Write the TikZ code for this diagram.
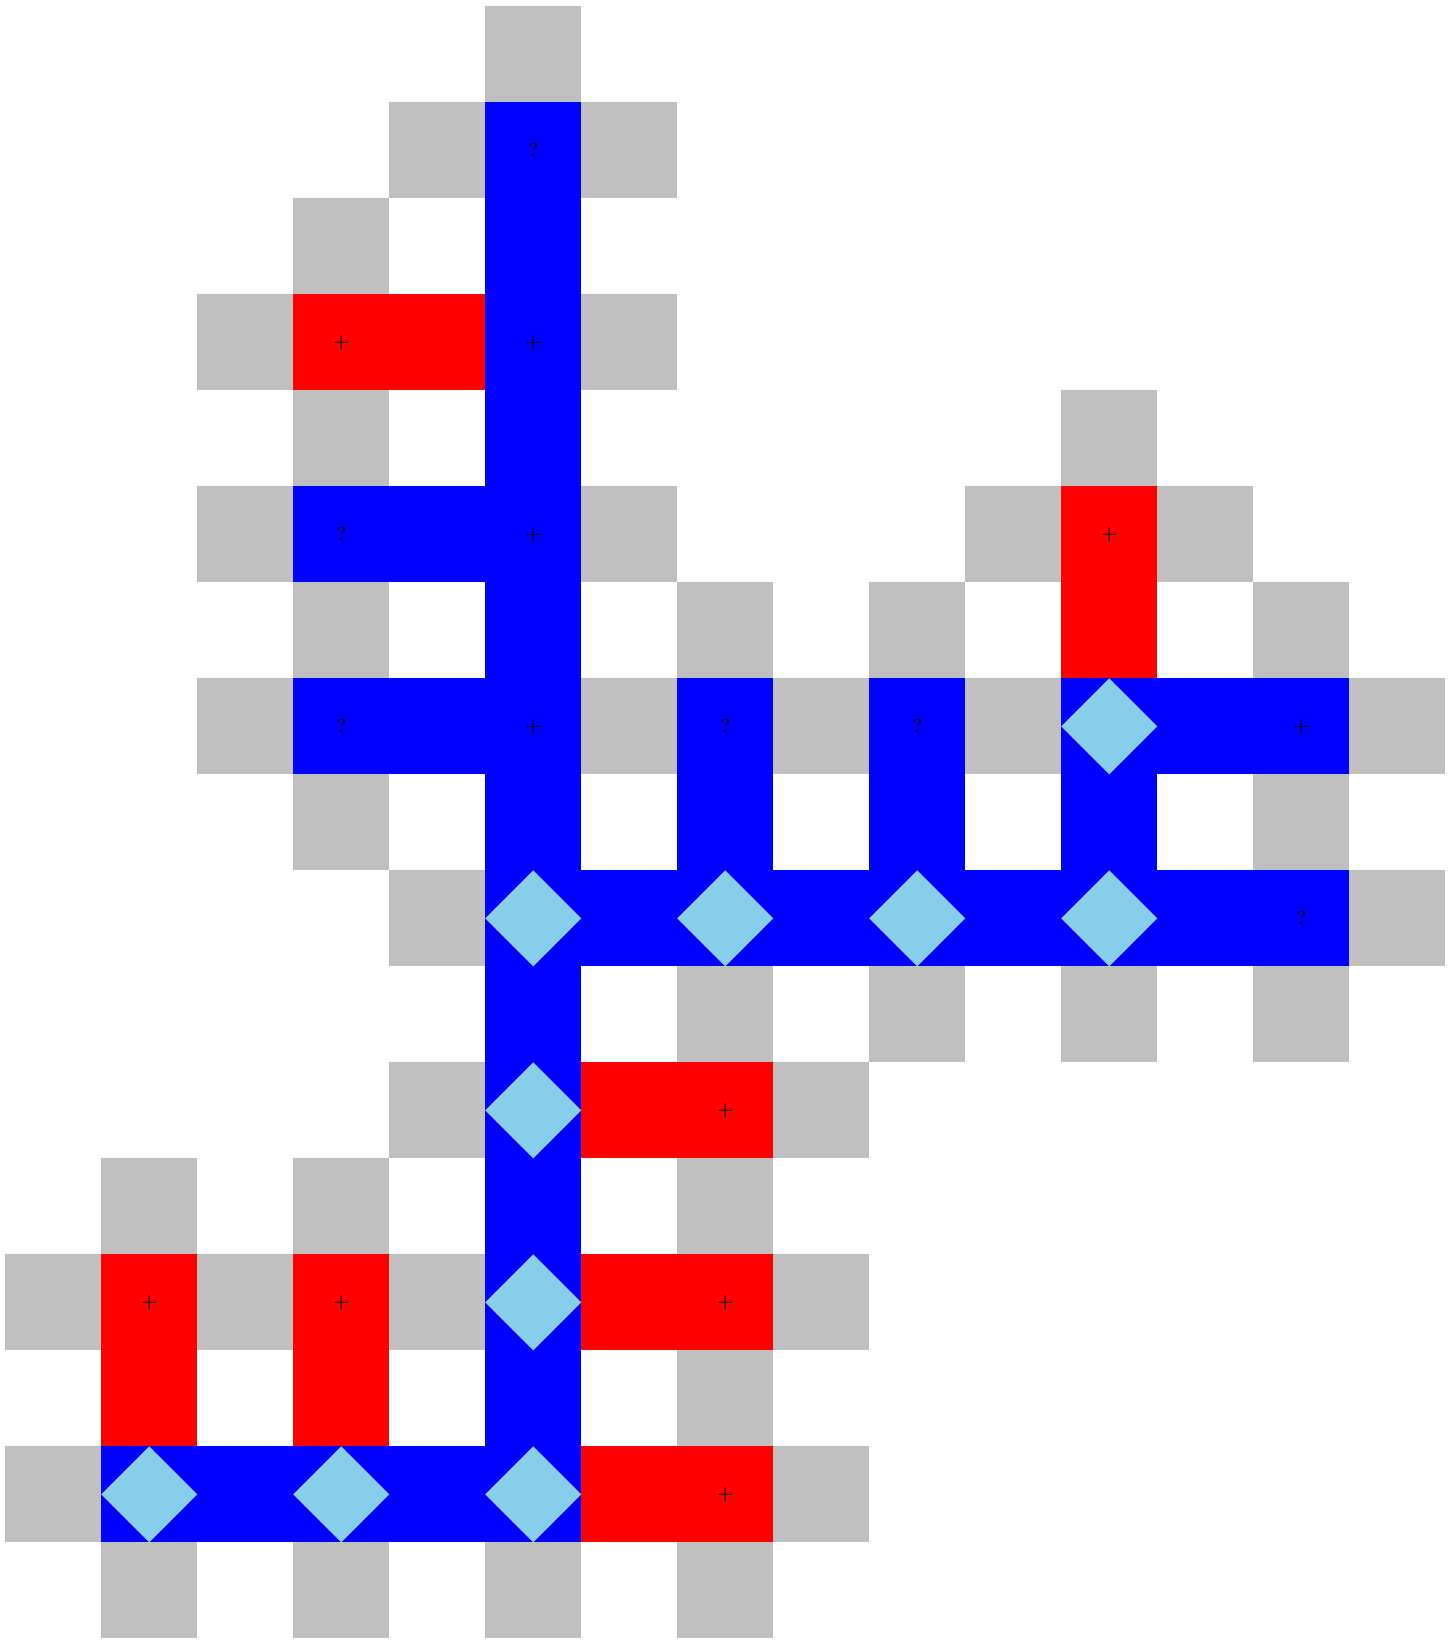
\documentclass[tikz,border=0pt]{standalone}
\usetikzlibrary{shapes.geometric}
\definecolor{cellgray}{RGB}{192,192,192}
\definecolor{cellblue}{RGB}{0,0,255}
\definecolor{cellred}{RGB}{255,0,0}
\definecolor{gemblue}{RGB}{135,206,235}
\tikzset{
  graycell/.style={fill=cellgray},
  bluecell/.style={fill=cellblue},
  redcell/.style={fill=cellred},
  gem/.style={fill=gemblue},
  celltext/.style={font=\fontsize{5.5}{6}\selectfont, inner sep=0pt, text=black}
}
\begin{document}
\begin{tikzpicture}
\useasboundingbox (-0.054,0.066) rectangle (15.061,-17.069);
% gray cells
\foreach \c/\r in {5/0,4/1,6/1,3/2,2/3,6/3,3/4,11/4,2/5,6/5,10/5,12/5,3/6,7/6,9/6,13/6,
  2/7,6/7,8/7,10/7,14/7,3/8,13/8,4/9,14/9,7/10,9/10,11/10,13/10,4/11,8/11,
  1/12,3/12,7/12,0/13,2/13,4/13,8/13,7/14,0/15,8/15,1/16,3/16,5/16,7/16}
  \fill[graycell] (\c,-\r) rectangle ++(1,-1);
% blue cells
\foreach \r in {1,...,15}
  \fill[bluecell] (5,-\r) rectangle ++(1,-1);
\foreach \c/\r in {3/5,4/5,3/7,4/7,7/7,9/7,11/7,12/7,13/7,7/8,9/8,11/8,
  6/9,7/9,8/9,9/9,10/9,11/9,12/9,13/9,1/15,2/15,3/15,4/15}
  \fill[bluecell] (\c,-\r) rectangle ++(1,-1);
% red cells
\foreach \c/\r in {3/3,4/3,11/5,11/6,6/11,7/11,1/13,1/14,3/13,3/14,6/13,7/13,6/15,7/15}
  \fill[redcell] (\c,-\r) rectangle ++(1,-1);
% diamonds
\foreach \c/\r in {11/7,5/9,7/9,9/9,11/9,5/11,5/13,1/15,3/15,5/15}
  \fill[gem] (\c+0.5,-\r) -- (\c+1,-\r-0.5) -- (\c+0.5,-\r-1) -- (\c,-\r-0.5) -- cycle;
% labels
\foreach \c/\r in {5/1,3/5,3/7,7/7,9/7,13/9}
  \node[celltext] (q\c-\r) at (\c+0.5,-\r-0.5) {?};
\foreach \c/\r in {3/3,5/3,5/5,5/7,11/5,13/7,7/11,1/13,3/13,7/13,7/15}
  \node[celltext] (p\c-\r) at (\c+0.5,-\r-0.5) {+};
\end{tikzpicture}
\end{document}
